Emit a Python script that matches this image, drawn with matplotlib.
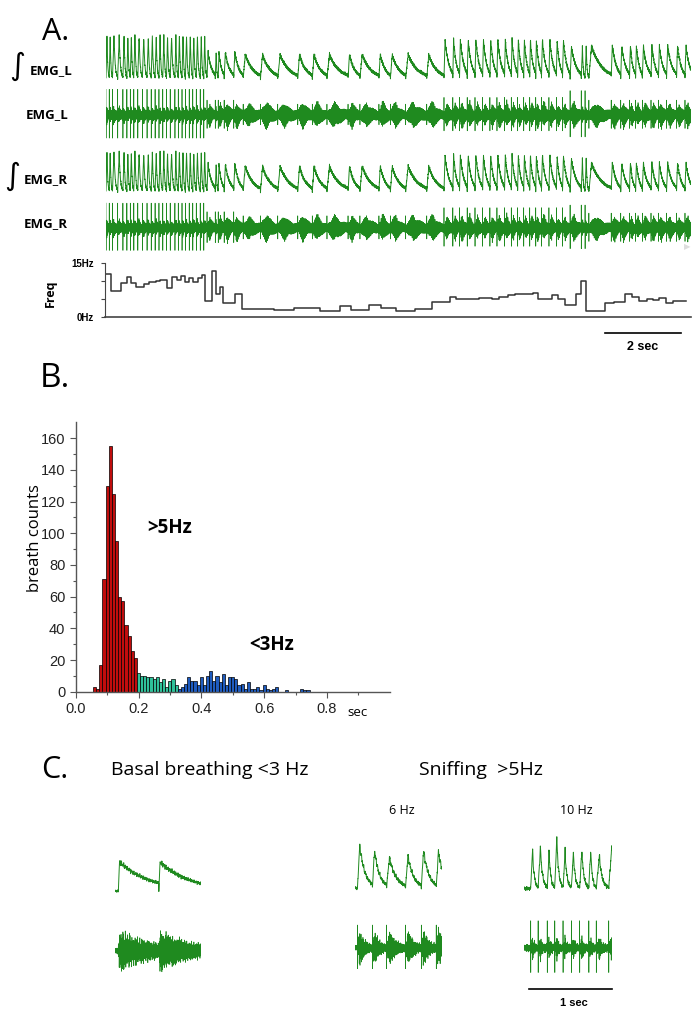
import numpy as np
import matplotlib.pyplot as plt

# ---------------- data ----------------
# panel A: breathing frequency (step trace), seconds / Hz
freq_edges = [0.0, 0.12, 0.40, 0.54, 0.66, 0.78, 1.01, 1.13, 1.31, 1.43, 1.61, 1.73, 1.87, 1.97,
              2.08, 2.18, 2.30, 2.42, 2.52, 2.61, 2.80, 2.89, 3.00, 3.09, 3.39, 3.57, 4.41, 4.94,
              5.63, 6.15, 6.46, 6.93, 7.23, 7.63, 8.12, 8.58, 9.06, 9.22, 9.63, 9.81, 9.99, 10.17,
              10.34, 10.58, 10.76, 11.24, 11.36, 11.73, 11.91, 12.07, 12.37, 12.51, 12.63, 13.14,
              13.38, 13.67, 13.85, 14.03, 14.23, 14.41, 14.56, 14.74, 14.92, 15.28]
freq_vals = [11.8, 7.3, 9.5, 11.0, 9.5, 8.2, 9.1, 9.8, 10.0, 10.2, 8.1, 11.2, 10.2, 11.3, 9.8,
             10.8, 9.6, 10.8, 11.6, 4.6, 12.8, 6.4, 8.4, 4.0, 6.4, 2.2, 1.9, 2.6, 1.8, 3.2, 2.0,
             3.3, 2.5, 1.8, 2.2, 4.3, 5.7, 4.9, 5.0, 5.2, 5.4, 5.0, 5.6, 6.0, 6.3, 6.6, 5.1, 6.2,
             5.0, 3.4, 6.4, 10.0, 1.7, 4.0, 4.3, 6.3, 5.6, 4.4, 5.1, 4.7, 5.3, 3.8, 4.5]

# burst amplitudes by phase of the recording (relative units)
phase_edges = [0.0, 2.6, 3.6, 8.6, 12.1, 12.65, 15.5]
intL_peak = [0.88, 0.55, 0.50, 0.80, 0.65, 0.68]
intR_peak = [0.85, 0.60, 0.55, 0.78, 0.70, 0.62]
rawL_spike = [0.95, 0.55, 0.40, 0.65, 0.90, 0.55]
rawR_spike = [0.92, 0.60, 0.45, 0.75, 0.85, 0.55]

# panel B: histogram of breath intervals (bin width 0.01 s)
red_centers = np.round(np.arange(0.06, 0.195, 0.01), 2)
red_counts = [3, 2, 17, 71, 130, 155, 125, 95, 60, 57, 42, 35, 26, 21]
teal_centers = np.round(np.arange(0.20, 0.325, 0.01), 2)
teal_counts = [12, 10, 10, 9, 9, 8, 9, 6, 8, 3, 7, 8, 4]
blue_centers = np.round(np.arange(0.33, 0.745, 0.01), 2)
blue_counts = [2, 3, 5, 9, 7, 7, 4, 9, 4, 10, 13, 7, 10, 6, 11, 4, 9, 9, 8, 4, 5, 2, 6, 2, 2,
               3, 1, 4, 2, 1, 2, 3, 0, 0, 1, 0, 0, 0, 0, 2, 1, 1]

# panel C: example bursts (onset times in s, relative peak heights)
basal_onsets = [0.04, 0.53]
basal_peaks = [1.0, 1.0]
hz6_onsets = [0.03, 0.21, 0.38, 0.61, 0.80, 0.98]
hz6_peaks = [1.0, 0.88, 0.71, 0.76, 0.88, 0.86]
hz10_onsets = [0.08, 0.17, 0.28, 0.37, 0.47, 0.57, 0.67, 0.78, 0.87, 1.02]
hz10_peaks = [0.75, 0.80, 0.71, 0.98, 0.71, 0.68, 0.71, 0.73, 0.63, 0.80]

GREEN = '#1f8a1f'
W, H = 700, 1015
fig = plt.figure(figsize=(7, 10.15), dpi=100)
NARROW = ['Liberation Sans', 'DejaVu Sans']
SANS = ['Open Sans', 'DejaVu Sans']


def px_axes(x0, y0, x1, y1):
    return fig.add_axes([x0 / W, 1 - y1 / H, (x1 - x0) / W, (y1 - y0) / H])


def ftext(x, y, s, **kw):
    kw.setdefault('ha', 'center')
    kw.setdefault('va', 'center')
    fig.text(x / W, 1 - y / H, s, **kw)


def carrier(t):
    # fast texture used for the raw EMG
    return (np.sin(2 * np.pi * 211 * t) + 0.7 * np.sin(2 * np.pi * 347 * t + 0.5)
            + 0.5 * np.sin(2 * np.pi * 523 * t + 1.3)) / 2.2


def ripple(t):
    # slower texture for the integrated traces
    return (np.sin(2 * np.pi * 41 * t) + 0.8 * np.sin(2 * np.pi * 67 * t + 0.9)
            + 0.6 * np.sin(2 * np.pi * 113 * t + 2.1)) / 2.4


def burst_wave(t, onsets, peaks, rise, decay):
    onsets = np.asarray(onsets, float)
    peaks = np.asarray(peaks, float)
    rise = np.broadcast_to(np.asarray(rise, float), onsets.shape)
    decay = np.broadcast_to(np.asarray(decay, float), onsets.shape)
    last = onsets[-1] - onsets[-2] if len(onsets) > 1 else 0.5
    periods = np.diff(np.append(onsets, onsets[-1] + last))
    idx = np.searchsorted(onsets, t, side='right') - 1
    ok = idx >= 0
    idx = np.clip(idx, 0, None)
    p = (t - onsets[idx]) / periods[idx]
    r, d = rise[idx], decay[idx]
    y = np.where(p < r, p / r, np.exp(-(p - r) / d)) * peaks[idx]
    return np.where(ok, y, 0.0)


def add_spikes(t, y, onsets, heights):
    for t0, h in zip(onsets, heights):
        i = np.searchsorted(t, t0)
        if i + 1 < len(y):
            y[i] = h
            y[i + 1] = -0.9 * h
    return y


# ---------------- panel A ----------------
T_END = 15.4
t = np.linspace(0, T_END, 14000)
fe = np.array(freq_edges)
fv = np.array(freq_vals)

onsets = []
tt = 0.0
while tt < T_END:
    onsets.append(tt)
    k = min(np.searchsorted(fe, tt, side='right') - 1, len(fv) - 1)
    tt += 1.0 / fv[k]
onsets = np.array(onsets)
rate = fv[np.clip(np.searchsorted(fe, onsets, side='right') - 1, 0, len(fv) - 1)]
ph = np.searchsorted(phase_edges, onsets, side='right') - 1
rise = np.where(rate > 7, 0.3, 0.12)
decay = np.where(rate > 7, 0.22, 0.45)

c = carrier(t)
rp = ripple(t)
rows = [('int', intL_peak, 33, 81), ('raw', rawL_spike, 88, 142),
        ('int', intR_peak, 148, 194), ('raw', rawR_spike, 201, 255)]
for kind, amps, y0, y1 in rows:
    ax = px_axes(106, y0, 691, y1)
    amp = np.array(amps)[ph]
    if kind == 'int':
        w = burst_wave(t, onsets, amp, rise, decay)
        y = 0.05 + w + 0.05 * rp * (0.4 + w) + 0.02 * c
        ax.plot(t, y, color=GREEN, lw=0.7)
        ax.set_ylim(0, 1)
    else:
        w = burst_wave(t, onsets, np.where(rate > 7, 0.28, 0.45),
                       np.where(rate > 7, 0.25, 0.35), 0.3)
        y = c * (0.14 + w)
        y = add_spikes(t, y, onsets, amp)
        ax.plot(t, y, color=GREEN, lw=0.5)
        ax.set_ylim(-1, 1)
    ax.set_xlim(0, T_END)
    ax.set_axis_off()

# frequency trace
axf = px_axes(105, 262.7, 691, 317.3)
axf.step(freq_edges, freq_vals + [freq_vals[-1]], where='post', color='#333333', lw=1.1)
axf.set_xlim(-0.03, T_END)
axf.set_ylim(0, 15)
for s in ['top', 'right']:
    axf.spines[s].set_visible(False)
axf.spines['left'].set_color('#444444')
axf.spines['bottom'].set_color('#444444')
axf.spines['bottom'].set_linewidth(1.2)
axf.set_xticks([])
axf.set_yticks([0, 5, 10, 15])
axf.set_yticklabels(['0Hz', '', '', '15Hz'], fontsize=7, fontweight='bold', family=NARROW)
axf.tick_params(axis='y', length=3, width=0.8, pad=5, colors='#444444', labelcolor='black')
ftext(50, 293, 'Freq', rotation=90, fontsize=9, fontweight='bold', family=SANS)

# scale bar 2 sec
fig.add_artist(plt.Line2D([605 / W, 681 / W], [1 - 333 / H] * 2, color='black', lw=1.2))
ftext(643, 347, '2 sec', fontsize=9, fontweight='bold', family=NARROW)
ftext(687, 247, '\u25b6', fontsize=6, color='#dddddd')

# labels panel A
ftext(56, 32, 'A.', fontsize=22, family=SANS)
ftext(17, 66, '\u222b', fontsize=22, family=['DejaVu Sans'])
ftext(51, 71, 'EMG_L', fontsize=9.5, fontweight='bold', family=SANS)
ftext(47, 115, 'EMG_L', fontsize=9.5, fontweight='bold', family=SANS)
ftext(12, 176, '\u222b', fontsize=22, family=['DejaVu Sans'])
ftext(46, 180, 'EMG_R', fontsize=9.5, fontweight='bold', family=SANS)
ftext(46, 224, 'EMG_R', fontsize=9.5, fontweight='bold', family=SANS)

# ---------------- panel B ----------------
ftext(55, 378, 'B.', fontsize=24, family=SANS)
axh = px_axes(75.7, 422.4, 389.7, 691.7)
axh.bar(red_centers, red_counts, width=0.01, color='#c00d0d', edgecolor='black', linewidth=0.5)
axh.bar(teal_centers, teal_counts, width=0.01, color='#2fc29a', edgecolor='black', linewidth=0.5)
axh.bar(blue_centers, blue_counts, width=0.01, color='#1f5cc0', edgecolor='black', linewidth=0.5)
axh.set_xlim(0, 1.0)
axh.set_ylim(0, 170)
for s in ['top', 'right']:
    axh.spines[s].set_visible(False)
for s in ['left', 'bottom']:
    axh.spines[s].set_color('#555555')
    axh.spines[s].set_linewidth(1.0)
axh.set_xticks([0.0, 0.2, 0.4, 0.6, 0.8])
axh.set_xticklabels(['0.0', '0.2', '0.4', '0.6', '0.8'])
axh.set_xticks([0.1, 0.3, 0.5, 0.7, 0.9], minor=True)
axh.set_yticks(range(0, 161, 20))
axh.set_yticks(range(10, 170, 20), minor=True)
axh.tick_params(which='major', length=4, width=0.8, colors='#555555', labelcolor='#222222',
                labelsize=10.5)
axh.tick_params(which='minor', length=2.5, width=0.8, colors='#555555')
for lab in axh.get_xticklabels() + axh.get_yticklabels():
    lab.set_family(NARROW)
ftext(35, 538, 'breath counts', rotation=90, fontsize=12, family=SANS)
ftext(358, 713, 'sec', fontsize=9.5, family=SANS)
ftext(170, 528, '>5Hz', fontsize=13.5, fontweight='bold', family=SANS)
ftext(272, 645, '<3Hz', fontsize=13.5, fontweight='bold', family=SANS)

# ---------------- panel C ----------------
ftext(55, 770, 'C.', fontsize=22, family=SANS)
ftext(210, 770, 'Basal breathing <3 Hz', fontsize=14, family=SANS)
ftext(481, 770, 'Sniffing  >5Hz', fontsize=14, family=SANS)
ftext(402, 811, '6 Hz', fontsize=9, family=SANS)
ftext(576, 811, '10 Hz', fontsize=9, family=SANS)

examples = [
    (basal_onsets, basal_peaks, 1.04, 115, 201, (860, 893), (925, 977), 0.03, 0.75, 0.75, 0.2),
    (hz6_onsets, hz6_peaks, 1.05, 355, 442, (842, 891), (921, 975), 0.15, 0.35, 0.7, 0.85),
    (hz10_onsets, hz10_peaks, 1.06, 524, 612, (833, 892), (916, 980), 0.25, 0.22, 0.3, 0.85),
]
for ons, pks, dur, x0, x1, (iy0, iy1), (ry0, ry1), r, d, band, spk in examples:
    tc = np.linspace(0, dur, 1500)
    cc = carrier(tc)
    rc = ripple(tc)
    ax = px_axes(x0, iy0, x1, iy1)
    w = burst_wave(tc, ons, pks, r, d)
    ax.plot(tc, 0.06 + 0.88 * w + 0.07 * rc * (0.4 + w) + 0.02 * cc, color=GREEN, lw=0.7)
    ax.set_xlim(0, dur)
    ax.set_ylim(0, 1)
    ax.set_axis_off()
    ax = px_axes(x0, ry0, x1, ry1)
    w = burst_wave(tc, ons, np.ones(len(ons)), r, d)
    y = cc * (0.12 + band * w) * (1 + 0.3 * rc)
    y = add_spikes(tc, y, ons, [spk] * len(ons))
    ax.plot(tc, y, color=GREEN, lw=0.5)
    ax.set_xlim(0, dur)
    ax.set_ylim(-1, 1)
    ax.set_axis_off()

fig.add_artist(plt.Line2D([529 / W, 612 / W], [1 - 989 / H] * 2, color='black', lw=1.2))
ftext(574, 1003, '1 sec', fontsize=8, fontweight='bold', family=NARROW)

fig.savefig('out.png', dpi=100)
